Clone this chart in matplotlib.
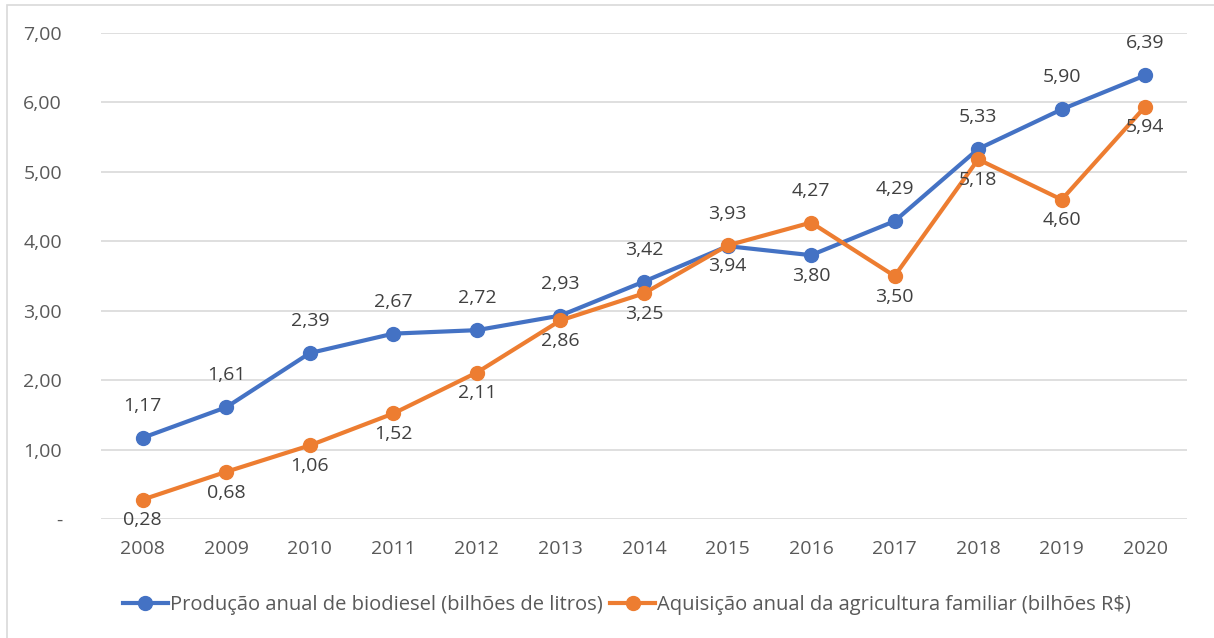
import matplotlib.pyplot as plt
from matplotlib.patches import Rectangle

# dados
anos = ['2008', '2009', '2010', '2011', '2012', '2013', '2014',
        '2015', '2016', '2017', '2018', '2019', '2020']
biodiesel = [1.17, 1.61, 2.39, 2.67, 2.72, 2.93, 3.42, 3.93, 3.80, 4.29, 5.33, 5.90, 6.39]
agricultura = [0.28, 0.68, 1.06, 1.52, 2.11, 2.86, 3.25, 3.94, 4.27, 3.50, 5.18, 4.60, 5.94]
# posição dos rótulos: 1 = acima, -1 = abaixo
pos_bio = [1, 1, 1, 1, 1, 1, 1, 1, -1, 1, 1, 1, 1]
pos_agr = [-1, -1, -1, -1, -1, -1, -1, -1, 1, -1, -1, -1, -1]

nome_bio = 'Produção anual de biodiesel (bilhões de litros)'
nome_agr = 'Aquisição anual da agricultura familiar (bilhões R$)'

azul = '#4472C4'
laranja = '#ED7D31'
cinza = '#595959'

plt.rcParams['font.family'] = ['Open Sans', 'DejaVu Sans']

fig = plt.figure(figsize=(12.14, 6.38), dpi=100)
ax = fig.add_axes([101 / 1214, 1 - 519 / 638, (1187 - 101) / 1214, (519 - 33) / 638])

# borda do gráfico
fig.patches.append(Rectangle((7 / 1214, -0.01), 1.02, (638 - 5) / 638 + 0.01,
                             transform=fig.transFigure, fill=False,
                             edgecolor='#D9D9D9', linewidth=1.2))

x = list(range(len(anos)))
ax.plot(x, biodiesel, color=azul, linewidth=3, marker='o', markersize=10,
        label=nome_bio, zorder=3)
ax.plot(x, agricultura, color=laranja, linewidth=3, marker='o', markersize=10,
        label=nome_agr, zorder=4)

def rotular(valores, posicoes):
    for i, (v, p) in enumerate(zip(valores, posicoes)):
        dy = 23 if p > 0 else -15
        ax.annotate(f'{v:.2f}'.replace('.', ','), (i, v), xytext=(0, dy),
                    textcoords='offset points', ha='center', va='center',
                    fontsize=14, color='#404040', zorder=5)

rotular(biodiesel, pos_bio)
rotular(agricultura, pos_agr)

ax.set_xlim(-0.5, len(anos) - 0.5)
ax.set_ylim(0, 7)
ax.set_xticks(x)
ax.set_xticklabels(anos)
ax.set_yticks(range(8))
ax.set_yticklabels(['-'] + [f'{v},00' for v in range(1, 8)])
ax.tick_params(length=0, labelsize=14, colors=cinza, pad=15)
ax.tick_params(axis='y', pad=28)
ax.grid(axis='y', color='#D9D9D9', linewidth=1.2)
ax.set_axisbelow(True)
for s in ax.spines.values():
    s.set_visible(False)

ax.legend(loc='center', bbox_to_anchor=(627 / 1214, 1 - 605 / 638),
          bbox_transform=fig.transFigure, ncol=2, frameon=False,
          fontsize=14.5, labelcolor=cinza, handlelength=2.2,
          handletextpad=0.1, columnspacing=0.4)

fig.savefig('out.png', dpi=100)
